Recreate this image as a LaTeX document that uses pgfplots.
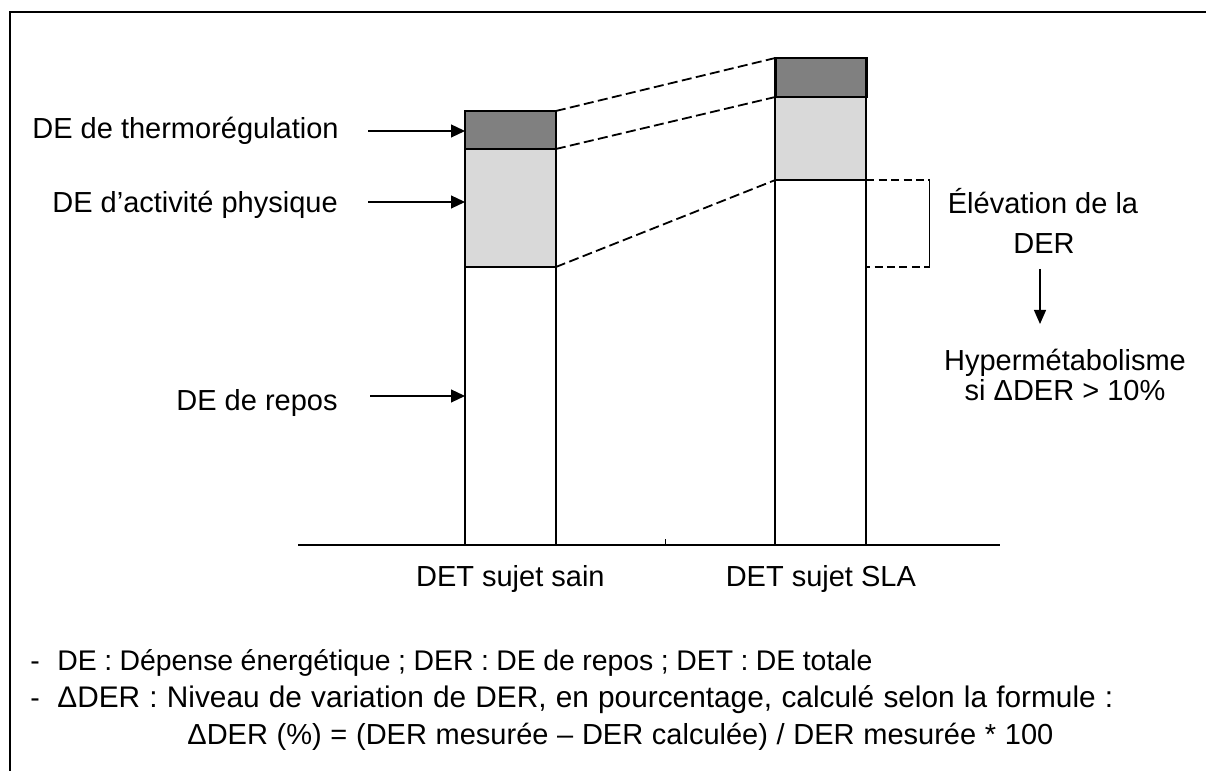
\documentclass[border=0pt]{standalone}
\usepackage{fontspec}
\setmainfont{Liberation Sans}
\usepackage{pgfplots}
\pgfplotsset{compat=1.18}
\usetikzlibrary{arrows.meta}
\definecolor{lightg}{HTML}{D9D9D9}
\definecolor{darkg}{HTML}{808080}
\newcommand\fs{\fontsize{14.5}{17.4}\selectfont}
\newcommand\fb{\fontsize{14.2}{17}\selectfont}
\hbadness=10000
\begin{document}
\begin{tikzpicture}[font=\fs]
\begin{scope}[shift={(0pt,385.5pt)},x=0.5pt,y=-0.5pt]
\useasboundingbox (0,0) rectangle (1206,771);
\draw[line width=1.4pt] (9,12) -- (1206,12);
\draw[line width=1pt] (10,12) -- (10,771);
% left labels and arrows
\node[anchor=base west, inner sep=0] at (32,139) {DE de thermorégulation};
\node[anchor=base west, inner sep=0] at (52,213) {DE d’activité physique};
\node[anchor=base west, inner sep=0] at (176,411) {DE de repos};
\draw[line width=0.6pt,-{Triangle[length=7pt,width=6.5pt]}] (368,131) -- (465,131);
\draw[line width=0.6pt,-{Triangle[length=7pt,width=6.5pt]}] (368,202) -- (465,202);
\draw[line width=0.6pt,-{Triangle[length=7pt,width=6.5pt]}] (370,396) -- (465,396);
% right annotation
\node[anchor=base, inner sep=0] at (1043,214) {Élévation de la};
\node[anchor=base, inner sep=0] at (1044,254) {DER};
\draw[line width=0.6pt,-{Triangle[length=7pt,width=6pt]}] (1040,269) -- (1040,324);
\node[anchor=base, inner sep=0] at (1065,371) {Hypermétabolisme};
\node[anchor=base, inner sep=0] at (1065,401) {si ΔDER > 10\%};
% notes
\node[anchor=base west, inner sep=0, font=\fb] at (30,671) {-};
\node[anchor=base west, inner sep=0, font=\fb] at (57,671) {\hbox to 407.5pt{DE : Dépense énergétique ; DER : DE de repos ; DET : DE totale}};
\node[anchor=base west, inner sep=0, font=\fb] at (30,708) {-};
\node[anchor=base west, inner sep=0, font=\fontsize{14.9}{17}\selectfont] at (57,708) {\hbox to 528pt{ΔDER : Niveau de variation de DER, en pourcentage, calculé selon la formule :}};
\node[anchor=base west, inner sep=0, font=\fontsize{14.5}{17}\selectfont] at (187,745) {\hbox to 433pt{ΔDER (\%) = (DER mesurée – DER calculée) / DER mesurée * 100}};
\end{scope}
\begin{axis}[at={(149pt,113pt)}, anchor=south west, scale only axis,
  width=351pt, height=266.5pt,
  xmin=-0.684, xmax=1.577, ymin=0, ymax=533, clip=false,
  axis x line=bottom, axis y line=none,
  x axis line style={-, line width=1pt},
  xtick={0,1}, xticklabels={DET sujet sain,DET sujet SLA},
  major tick length=0pt, ytick=\empty,
  xticklabel style={anchor=base, yshift=-21pt, inner sep=0pt, font=\fs},
  ybar stacked, bar width=45.5pt]
\addplot[fill=white, draw=black, line width=1pt] coordinates {(0,278) (1,365)};
\addplot[fill=lightg, draw=black, line width=1pt] coordinates {(0,118) (1,83)};
\addplot[fill=darkg, draw=black, line width=1.2pt] coordinates {(0,38) (1,39)};
% connecting dashed lines
\draw[line width=0.9pt, dash pattern=on 5pt off 2.2pt] (axis cs:0.1465,434) -- (axis cs:0.8535,487);
\draw[line width=0.9pt, dash pattern=on 5pt off 2.2pt] (axis cs:0.1465,396) -- (axis cs:0.8535,448);
\draw[line width=0.9pt, dash pattern=on 5pt off 2.2pt] (axis cs:0.1465,278) -- (axis cs:0.8535,365);
% bracket
\draw[line width=0.8pt, dash pattern=on 4pt off 2.2pt] (axis cs:1.1465,365) -- (axis cs:1.351,365);
\draw[line width=0.8pt, dash pattern=on 4pt off 2.2pt] (axis cs:0.8535,278) -- (axis cs:1.351,278);
\draw[line width=0.6pt] (axis cs:1.351,365) -- (axis cs:1.351,278);
% small mid tick
\draw[line width=0.6pt] (axis cs:0.5,0) -- ++(0pt,3pt);
\end{axis}
\end{tikzpicture}
\end{document}
